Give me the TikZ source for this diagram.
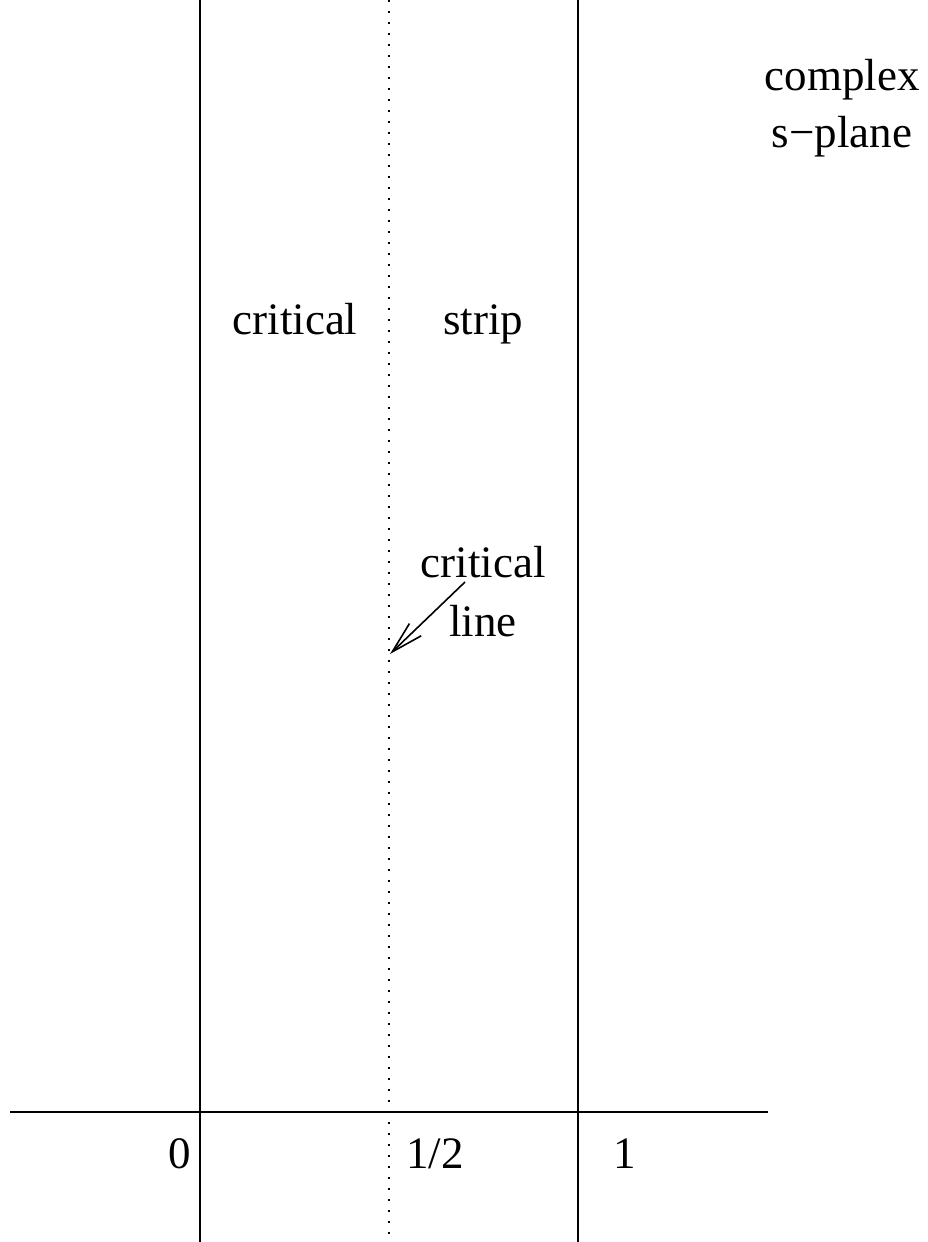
\documentclass[tikz,border=0pt]{standalone}
\usepackage{fontspec}
\setmainfont{Liberation Serif}
\usetikzlibrary{arrows.meta}
\begin{document}
\begin{tikzpicture}[x=0.5pt,y=-0.5pt,
  axis/.style={line width=1pt},
  dotline/.style={line width=1pt,dash pattern={on 1pt off 4.5pt}},
  lbl/.style={font=\fontsize{22.5}{27}\selectfont,anchor=base,inner sep=0pt},
  pointer/.style={line width=0.8pt,-{Straight Barb[length=16pt,width=8.5pt,line width=0.8pt]}}]
\useasboundingbox (0,0) rectangle (927,1242);
\coordinate (l0) at (200,0);
\coordinate (l1) at (200,1242);
\coordinate (r0) at (578,0);
\coordinate (r1) at (578,1242);
\coordinate (d0) at (389,0);
\coordinate (d1) at (389,1242);
\coordinate (h0) at (10,1112);
\coordinate (h1) at (768,1112);
\draw[axis] (l0) -- (l1);
\draw[axis] (r0) -- (r1);
\draw[axis] (h0) -- (h1);
\draw[dotline] (d0) -- (d1);
\node[lbl] (crit) at (295,334) {critical};
\node[lbl] (strip) at (483,334) {strip};
\node[lbl] (cl1) at (483,577) {critical};
\node[lbl] (cl2) at (483,636) {line};
\node[lbl] (cx) at (842,90) {complex};
\node[lbl] (sp) at (842,147) {s−plane};
\node[lbl] (zero) at (180,1168) {0};
\node[lbl] (half) at (435,1168) {1/2};
\node[lbl] (one) at (625,1168) {1};
\coordinate (as) at (465,582);
\coordinate (ae) at (390,654);
\draw[pointer] (as) -- (ae);
\end{tikzpicture}
\end{document}
